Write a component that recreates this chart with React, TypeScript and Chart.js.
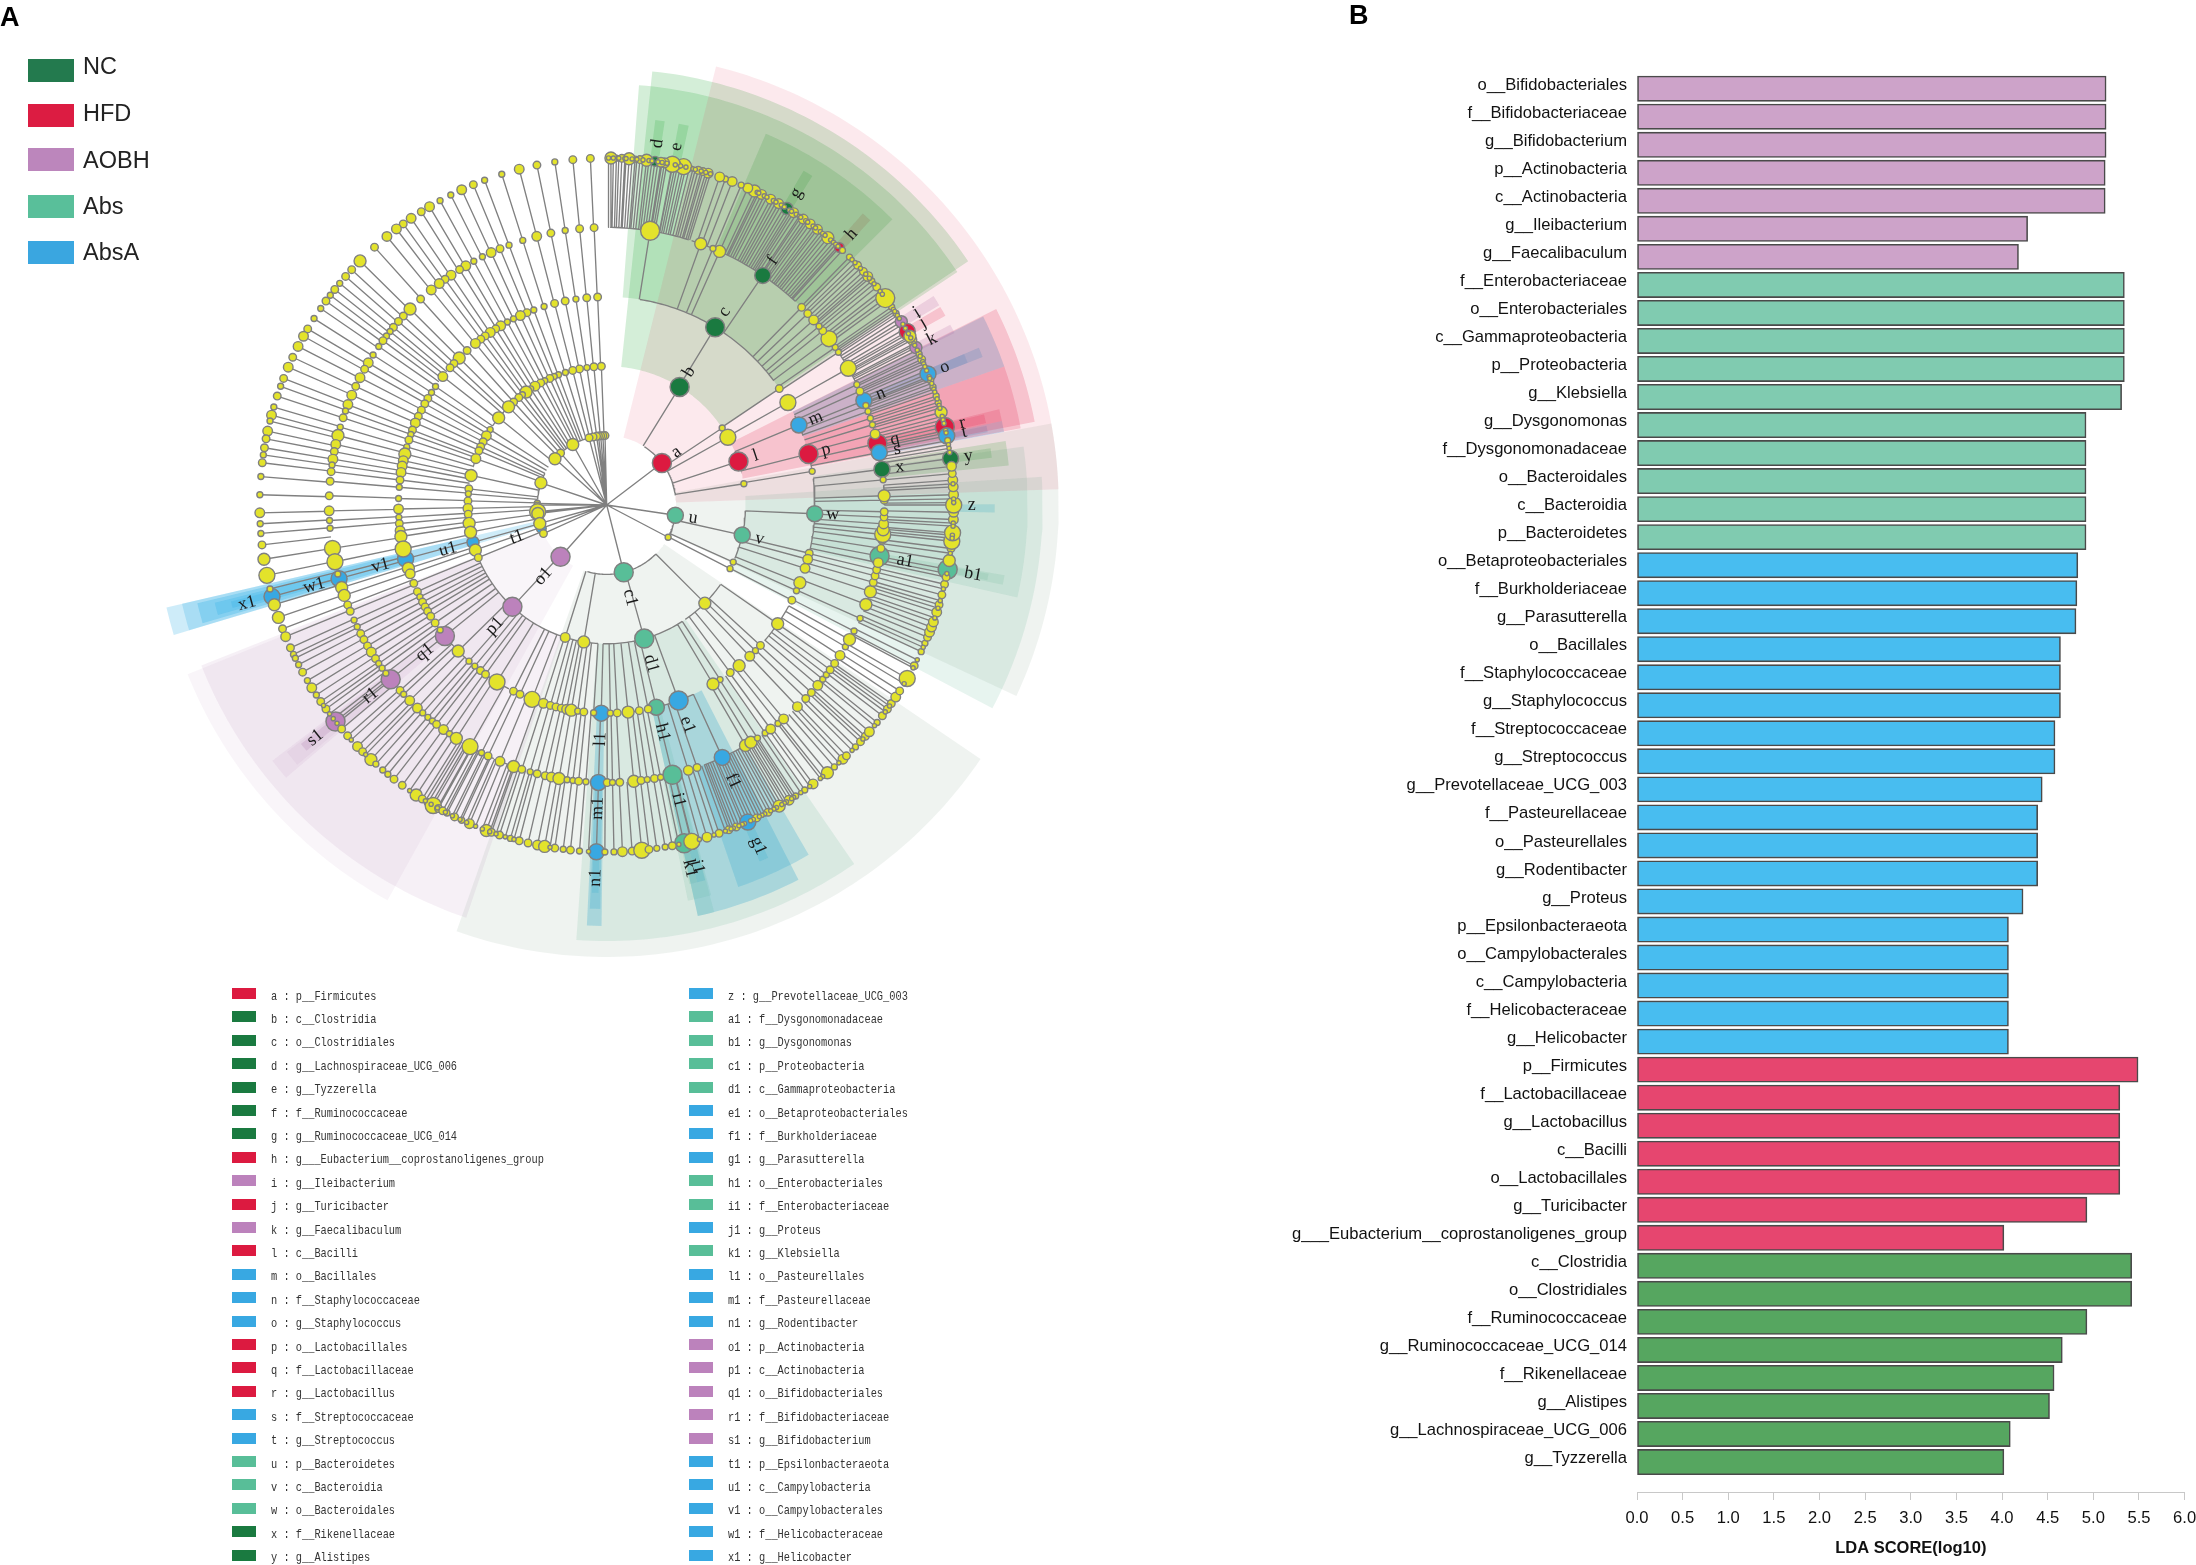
import React, { useEffect, useRef } from "react";
import { Chart, registerables } from "chart.js";

Chart.register(...registerables);

// ---------- Panel B data ----------
const barNames = [
  "o__Bifidobacteriales","f__Bifidobacteriaceae","g__Bifidobacterium","p__Actinobacteria","c__Actinobacteria","g__Ileibacterium","g__Faecalibaculum",
  "f__Enterobacteriaceae","o__Enterobacteriales","c__Gammaproteobacteria","p__Proteobacteria","g__Klebsiella","g__Dysgonomonas","f__Dysgonomonadaceae","o__Bacteroidales","c__Bacteroidia","p__Bacteroidetes",
  "o__Betaproteobacteriales","f__Burkholderiaceae","g__Parasutterella","o__Bacillales","f__Staphylococcaceae","g__Staphylococcus","f__Streptococcaceae","g__Streptococcus","g__Prevotellaceae_UCG_003","f__Pasteurellaceae","o__Pasteurellales","g__Rodentibacter","g__Proteus","p__Epsilonbacteraeota","o__Campylobacterales","c__Campylobacteria","f__Helicobacteraceae","g__Helicobacter",
  "p__Firmicutes","f__Lactobacillaceae","g__Lactobacillus","c__Bacilli","o__Lactobacillales","g__Turicibacter","g___Eubacterium__coprostanoligenes_group",
  "c__Clostridia","o__Clostridiales","f__Ruminococcaceae","g__Ruminococcaceae_UCG_014","f__Rikenellaceae","g__Alistipes","g__Lachnospiraceae_UCG_006","g__Tyzzerella",
];
const barValues = [
  5.14,5.14,5.14,5.13,5.13,4.28,4.18,
  5.34,5.34,5.34,5.34,5.31,4.92,4.92,4.92,4.92,4.92,
  4.83,4.82,4.81,4.64,4.64,4.64,4.58,4.58,4.44,4.39,4.39,4.39,4.23,4.07,4.07,4.07,4.07,4.07,
  5.49,5.29,5.29,5.29,5.29,4.93,4.02,
  5.42,5.42,4.93,4.66,4.57,4.52,4.09,4.02,
];
const barGroups = [
  2,2,2,2,2,2,2, 3,3,3,3,3,3,3,3,3,3,
  4,4,4,4,4,4,4,4,4,4,4,4,4,4,4,4,4,4,
  1,1,1,1,1,1,1, 0,0,0,0,0,0,0,0,
];
const barColors = ["#56A660","#E6466F","#CDA3C9","#80CBB0","#48BDF0"];
const axisTicks = [0,0.5,1,1.5,2,2.5,3,3.5,4,4.5,5,5.5,6];

// ---------- Panel A data ----------
const groupNames = ["NC","HFD","AOBH","Abs","AbsA"];
const groupColors = ["#1A7A40","#DC1A40","#BC82BC","#58BE98","#38A8E2"];
const wedgeRGB = ["40,170,60","225,40,80","170,110,170","85,175,145","50,175,230"];

// biomarker: label, taxon, group, ring, angle clockwise from top, abundance
const biomarkers: [string,string,number,number,number,number][] = [
  ["a","p__Firmicutes",1,1,52.7,6],["b","c__Clostridia",0,2,31.7,6],["c","o__Clostridiales",0,3,31.4,6],["d","g__Lachnospiraceae_UCG_006",0,5,8,3],["e","g__Tyzzerella",0,5,11,2],
  ["f","f__Ruminococcaceae",0,4,34.2,5],["g","g__Ruminococcaceae_UCG_014",0,5,31.3,4],["h","g___Eubacterium__coprostanoligenes_group",1,5,42.1,3],["i","g__Ileibacterium",2,5,58.1,4],["j","g__Turicibacter",1,5,60,5],
  ["k","g__Faecalibaculum",2,5,63,4],["l","c__Bacilli",1,2,71.7,6],["m","o__Bacillales",4,3,67.4,5],["n","f__Staphylococcaceae",4,4,67.9,5],["o","g__Staphylococcus",4,5,67.8,5],
  ["p","o__Lactobacillales",1,3,75.8,6],["q","f__Lactobacillaceae",1,4,77.2,6],["r","g__Lactobacillus",1,5,77,6],["s","f__Streptococcaceae",4,4,79.1,5],["t","g__Streptococcus",4,5,78.5,5],
  ["u","p__Bacteroidetes",3,1,98.5,5],["v","c__Bacteroidia",3,2,102.5,5],["w","o__Bacteroidales",3,3,92.4,5],["x","f__Rikenellaceae",0,4,82.6,5],["y","g__Alistipes",0,5,82.3,5],
  ["z","g__Prevotellaceae_UCG_003",4,5,90,3],["a1","f__Dysgonomonadaceae",3,4,100.6,6],["b1","g__Dysgonomonas",3,5,100.7,6],["c1","p__Proteobacteria",3,1,165.8,6],["d1","c__Gammaproteobacteria",3,2,164.3,6],
  ["e1","o__Betaproteobacteriales",4,3,159.8,6],["f1","f__Burkholderiaceae",4,4,155.4,5],["g1","g__Parasutterella",4,5,156,5],["h1","o__Enterobacteriales",3,3,166.2,5],["i1","f__Enterobacteriaceae",3,4,166.3,6],
  ["j1","g__Proteus",4,5,165.9,5],["k1","g__Klebsiella",3,5,167.1,6],["l1","o__Pasteurellales",4,3,181.5,5],["m1","f__Pasteurellaceae",4,4,181.7,5],["n1","g__Rodentibacter",4,5,181.7,5],
  ["o1","p__Actinobacteria",2,1,221.7,6],["p1","c__Actinobacteria",2,2,222.8,6],["q1","o__Bifidobacteriales",2,3,231,6],["r1","f__Bifidobacteriaceae",2,4,231.1,6],["s1","g__Bifidobacterium",2,5,231.4,6],
  ["t1","p__Epsilonbacteraeota",4,1,250.3,3],["u1","c__Campylobacteria",4,2,254.4,4],["v1","o__Campylobacterales",4,3,255,5],["w1","f__Helicobacteraceae",4,4,254.6,5],["x1","g__Helicobacter",4,5,254.7,5],
];

// background sector: label, ring, start angle, end angle
const sectors: [string,number,number,number][] = [
  ["a",1,14,88],["b",2,6,56],["c",3,4.4,56.4],["f",4,23.2,45],["d",5,7.2,8.6],["e",5,10.7,12.2],["g",5,30.5,32],["h",5,41.3,42.8],
  ["i",5,57.4,59],["j",5,59.3,60.8],["k",5,62.3,63.7],["l",2,63.3,79],["m",3,63.4,70.8],["n",4,67.1,68.5],["o",5,67.1,68.5],
  ["p",3,70.8,79.5],["q",4,76.3,78],["r",5,76.5,77.8],["s",4,78,79.6],["t",5,78.2,79.2],["x",4,80.9,84.4],["y",5,81.6,83],
  ["u",1,79.6,115],["v",2,86.3,117.8],["w",3,82,102.7],["a1",4,100,101.4],["b1",5,100.2,101.2],["z",5,89.9,91.1],
  ["c1",1,124.2,199.4],["d1",2,145.4,184],["e1",3,152.9,167.5],["f1",4,150,161],["g1",5,155.4,156.8],["h1",3,165.2,167.5],["i1",4,165,168.4],["j1",5,165.3,166.5],["k1",5,166.5,167.7],
  ["l1",3,180.7,182.7],["m1",4,180.9,182.4],["n1",5,181.2,182.2],
  ["o1",1,209,248],["p1",2,198.8,248.4],["q1",3,229.6,232.6],["r1",4,230,232.3],["s1",5,230.7,232],
  ["t1",1,253.3,256.9],["u1",2,253.3,256.9],["v1",3,253.7,256.5],["w1",4,254.2,256],["x1",5,254.6,255.6],
];

// unlabelled taxa per ring: [angle, abundance]
const ring1: [number,number][] = [[-1.4,2],[-3.2,2],[-5,2],[-6.8,2],[-8.4,2],[-11.3,2],[-14.7,2],[-29.3,4],[-41.6,2],[-48.2,4],[-71.4,4],[-88.6,1],[-90.1,1],[-95.6,5],[-97,4],[-105.4,4],[-114.3,2],[117.7,1]];
const ring2: [number,number][] = [
  [-2.2,2],[-5.3,2],[-8.2,1],[-11.3,2],[-14.2,2],[-17.3,1],[-20.3,1],[-22.2,1],[-24.2,2],[-26.5,1],[-28.4,2],[-31.1,3],[-33.2,1],[-35.5,4],[-37.4,1],[-39.3,2],[-42.1,2],[-45,4],[-51.1,4],[-57.1,1],[-60.1,3],[-62.9,2],[-65.2,2],[-67,2],[-70.5,3],[-77.7,4],[-83.3,2],[-85.4,1],[-88.3,2],[-91.4,3],
  [-93.8,2],[-97.6,4],[-101.3,4],[-108.9,4],[-112.3,2],[56.3,1],[60.8,5],[81.2,1],[114.3,1],[117.3,1],[135,4],[-162.6,3],[-170.5,4],
];
const ring3: [number,number][] = [
  [-2.5,2],[-5.5,2],[-8.5,1],[-11.5,2],[-14.5,2],[-17.5,1],[-20.5,1],[-22.5,2],[-24.5,3],[-26.6,1],[-28.5,1],[-30.6,3],[-32.2,2],[-34,3],[-35.7,2],[-37.2,2],[-39.1,3],[-42.1,2],[-45.1,4],[-47.2,2],[-48.8,2],[-51.9,3],[-55.3,1],[-57.3,1],[-59.2,2],[-60.9,2],[-62.9,2],[-64.8,2],[-66.8,3],[-68.9,2],[-70.2,1],[-71.8,2],[-73.8,1],[-75.8,4],[-77.7,3],[-79.2,3],[-81,3],[-83.1,2],[-85.1,1],[-88.2,1],[-91.1,3],
  [-93.4,1],[-95.1,2],[-97.1,3],[-98.7,4],[-102.2,5],[-107.7,4],[-109.3,3],[-112.1,2],[-114.6,2],[-116.2,1],[-117.8,2],[-119.3,2],[-120.7,2],[-122.3,2],[-124.5,2],[-126.9,1],[-134.5,4],[-138.6,1],[-140.7,1],[-142.7,2],[-144.4,2],[-148.2,5],[-153.4,2],[-155.4,2],[-159,5],[-162.3,3],[-164.3,2],[-165.9,2],[-167.4,2],[-168.9,3],[-170.2,4],[-172,1],[-173.7,2],[-176.4,1],
  [179,1],[177.1,2],[174.1,4],[171,2],[168.5,2],[56,2],[60.5,5],[80.7,1],[103.4,2],[105.1,3],[107.7,3],[111.9,4],[114.3,1],[117.2,2],[124.8,4],[132.4,2],[134.4,1],[136.6,3],[140.5,4],[143.6,2],[147,1],[149.3,4],
];
const ring4: [number,number][] = [
  [-2.6,2],[-5.6,2],[-8.6,1],[-11.6,2],[-14.6,3],[-17.6,1],[-20.6,1],[-22.6,2],[-24.6,3],[-26.6,1],[-28.6,1],[-30.5,3],[-32,2],[-34.1,3],[-35.6,2],[-37.1,3],[-39.2,3],[-42.1,2],[-45.1,4],[-47.1,2],[-48.6,2],[-50.2,2],[-51.3,1],[-52.5,1],[-53.7,2],[-55.2,1],[-57.3,1],[-59.2,3],[-60.7,2],[-62.7,3],[-64.7,2],[-66.7,3],[-68.8,3],[-70.2,1],[-71.7,2],[-73.7,1],[-75.5,4],[-77.4,3],[-78.9,2],[-80.5,3],[-81.7,1],[-83.1,2],[-85.1,2],[-88.1,2],[-91.2,3],
  [-93.2,1],[-94.8,1],[-99,5],[-101.8,5],[-104.4,1],[-107.3,4],[-109,4],[-111.1,2],[-112.5,2],[-114.5,1],[-116,1],[-117.6,2],[-119,2],[-120.5,2],[-122,3],[-123.6,2],[-124.8,1],[-126,1],[-127.3,1],[-131.9,2],[-133,1],[-134.8,3],[-137,3],[-138.5,1],[-139.9,1],[-141.1,1],[-142.2,2],[-144,3],[-145.5,1],[-147.2,4],[-150.5,5],[-153.2,1],[-154.7,2],[-157.4,3],[-160.4,4],[-162.2,2],[-164,1],[-165.5,2],[-167.2,2],[-168.5,3],[-170.1,4],[-171.8,1],[-173,1],[-174.2,2],[-175.7,1],
  [179.9,2],[178.8,1],[177.3,2],[174.4,4],[172.9,2],[171.6,1],[170.1,2],[168.8,1],[162.9,3],[161,2],
  [150,4],[148.7,4],[147.1,1],[145.2,1],[143.8,3],[141.9,1],[140.4,3],[136.6,3],[134.2,2],[132.5,2],[130.5,3],[128.9,1],[127.7,1],[126.4,2],[124.8,2],[122.8,3],[120.7,1],[119,4],[117,1],
  [114.1,1],[111,4],[108.2,4],[106.2,2],[104.8,2],[103.5,2],[102,3],[99,2],[97.3,2],[96.1,5],[95.1,4],[93.9,3],[92.5,2],[91.4,2],[89,2],[88.1,4],[84.8,1],
  [75.2,3],[73.2,1],[71.8,1],[70.3,1],[69,1],[65.8,2],[64.3,1],[60.5,5],[56.6,1],[55.4,1],[53.2,5],[51.1,2],[49.9,1],[48.2,3],[46.4,2],[44.6,2],[24,4],[22.5,1],[19.8,4],[9,6],
];
const ring5: [number,number][] = [
  [-2.7,2],[-5.6,2],[-8.6,1],[-11.6,2],[-14.6,3],[-17.6,1],[-20.6,1],[-22.6,2],[-24.7,3],[-26.7,1],[-28.7,1],[-30.7,3],[-32.3,2],[-34.3,3],[-35.9,2],[-37.3,3],[-39.3,3],[-42,2],[-45.3,4],[-47.3,2],[-48.8,2],[-50.3,1],[-51.6,2],[-52.8,1],[-54,2],[-55.5,1],[-57.5,1],[-59.5,2],[-60.9,3],[-62.8,3],[-64.8,2],[-66.6,3],[-68.6,2],[-70,1],[-71.7,2],[-73.6,1],[-75,3],[-76,1],[-77.7,3],[-79,2],[-80.5,2],[-81.7,1],[-83,2],[-85.3,1],[-88.3,1],[-91.3,3],
  [-93.1,1],[-94.7,1],[-96.6,2],[-99,4],[-101.7,5],[-104,1],[-106.7,4],[-108.9,4],[-110.9,2],[-112.3,3],[-114.3,2],[-115.5,1],[-116.2,1],[-117.4,1],[-118.8,2],[-120.4,1],[-121.8,3],[-123.2,1],[-124.5,2],[-126,2],[-130.2,2],[-131.7,2],[-134.1,3],[-135.3,2],[-137.2,4],[-138.3,1],[-139.8,1],[-140.9,1],[-142.2,2],[-143.9,2],[-146.7,4],[-147.9,2],[-149,2],[-150,5],[-151,2],[-151.8,2],[-152.6,1],[-154,2],[-155.3,1],[-156.7,3],[-159.7,4],[-160.6,2],[-162,2],[-163.9,1],[-165.4,2],[-166.9,2],[-168.5,3],[-169.7,4],[-171.4,2],[-172.8,1],[-174,2],[-175.5,1],[-179.7,1],
  [178.8,1],[177.4,3],[175.8,2],[174.2,5],[173,2],[171.7,1],[170.3,1],[169.1,2],[165.8,5],[163.2,3],[161.1,2],[159.4,2],[158.1,2],[154.4,2],[152.3,2],[150.2,4],[148.3,3],[147,1],
  [145.2,1],[143.5,3],[140.5,4],[139,1],[137.1,3],[136.3,2],[134.2,1],[133,2],[131.8,2],[130.8,3],[128.8,1],[127.4,2],[126,2],[124.9,2],[123.6,3],[122.4,2],[120,5],[117.6,2],[115,1],[113.5,1],[112.4,2],[111.5,3],[110.6,3],[109.7,3],[108,3],[106.7,2],[105,2],[103.2,2],[102,2],[99.2,4],[97.2,2],[96,5],[94.6,5],[92.4,3],[91.2,3],[90,5],[88.3,3],[87,3],[85.9,3],[84.8,2],[83.6,3],
  [79.3,1],[74.5,4],[72.8,1],[71.7,1],[70.1,1],[69,1],[65.2,2],[64.2,1],[61.6,3],[60.9,4],[56.5,1],[55.2,1],[54,2],[53.4,6],[51.1,2],[49.8,1],[48.8,3],[47.7,2],[46.3,2],[44.4,1],[42.8,1],
  [39.6,4],[37.4,3],[35.9,3],[34.5,3],[32.6,3],[29.7,3],[28.2,3],[26.5,3],[25.2,4],[24,3],[22.8,1],[21.2,3],[20,1],[19,3],[17,3],[16.1,2],[15.3,2],[13.8,1],[12.8,5],[11.8,2],[10.9,5],[9.6,3],[9,3],[6.6,4],[5.5,2],[4.7,1],[3.7,4],[2.5,2],[1.6,1],[0.7,4],
];
// leaves too small to see a marker, only their branch line
const ring5Minor = [
  0.3,1.1,2,3,3.2,4.2,5,6,7,7.5,8.5,9.2,10,11.4,12.3,13.2,14.4,14.8,15.8,16.6,17.4,
  25.7,26,27,27.5,28.7,29.2,30.2,30.8,31.8,32.2,33.1,33.7,34,35,35.4,36.5,37,38,38.5,39,40.2,40.8,41.3,41.8,
  45,45.7,47,48.3,49.2,50.4,52,52.6,55.7,56.1,56.9,57.5,58.6,59.4,60.4,61.2,62.3,62.6,63.5,64.6,65.6,66,66.5,67.2,68.3,68.6,69.5,70.5,71,72.2,73.3,73.8,75.2,75.8,76.4,77.6,78,80,80.6,81.3,
  86.5,89,89.6,93,93.5,95,95.5,98,101.4,104,106,107.3,109,114.2,116.5,118,121,125.4,126.6,129.5,132.4,135,138,141.5,142,144.2,146,
  147.4,147.8,148.8,149.2,149.7,150.7,151.2,151.8,152.9,153.4,153.9,155,155.5,156.6,157,157.6,158.6,159,160,162,164.5,168,
  -149.6,-150.8,-152.3,-153.6,-155,-156.2,-157.8,-159,-160.3,-161.4,-163,-164.5,-170.6,-177,
  -125.3,-127,-128,-129,-132.6,-136,-145.4,-148.5,
];
// branching arcs per ring: [from angle, to angle]
const arcs1: [number,number][] = [[32.9,82],[98.5,115],[135,196.2],[-17.3,-40],[-45,-51],[-62.9,-85.4],[-91.4,-101.3],[-108.9,-114.3]];
const arcs2: [number,number][] = [[67.4,75.8],[92.4,112.7],[147,181.5],[125,145.5],[-112.5,-159.2],[-164.3,-176.4],[-153.4,-162.3],[-47.2,-55.3],[-57.3,-62.9],[-66.8,-73.8],[-75.8,-79.2],[-30.6,-32.2],[-34,-37.2],[-95.1,-98.7],[-107.7,-109.3]];
const arcs3: [number,number][] = [[9.2,53.4],[55.4,56.6],[64.6,70.6],[72.9,79.7],[82.7,103.5],[119,130.7],[140.4,143.8],[148.7,150],[161,166.3],[155.4,159.8],[177.8,181.7],[-125,-131.9],[-131.9,-138],[-144,-152],[-154,-162],[-74,-78.7],[170,172.9],[-105.3,-107.3],[-99,-101.8]];
const arcs4: [number,number][] = [[0.9,17.2],[17.8,24],[25.2,42.8],[56.9,64],[64.5,70],[71.5,77.8],[78.5,79.5],[80.5,84.5],[85.9,90],[94.6,97.2],[99.2,102],[117,121],[147,159.5],[165.8,167.1],[-73.6,-77.7],[-149,-156],[-157,-162],[-133,-135.3],[-137.2,-138.3],[-126,-131.7],[180,182.5],[-98,-99.6],[-104,-105.5]];

const panelLetters: [string,number,number][] = [["A",0,2],["B",1349,0]];

const RING = 69.4;
const OUTER = [0,452,436,421,404,388];
const CX = 606.7, CY = 505, WA = 1290, HA = 1000;
const BL = 1280, BW = 916;
const toXY = (r: number, deg: number) => ({ x: r * Math.sin((deg*Math.PI)/180), y: r * Math.cos((deg*Math.PI)/180) });
const pointSize = (a: number) => [2.1,3,3.8,4.8,6,8,9.5][a];

function cladogramConfig(): any {
  const datasets: any[] = [];
  const byLabel = new Map(biomarkers.map((b) => [b[0], b]));
  sectors.forEach(([lab, ring, a0, a1]) => {
    const b = byLabel.get(lab)!;
    const pts: {x:number;y:number}[] = [];
    const rIn = ring * RING, rOut = OUTER[ring];
    const steps = Math.max(2, Math.ceil(a1 - a0));
    for (let i = 0; i <= steps; i++) pts.push(toXY(rOut, a0 + ((a1 - a0) * i) / steps));
    for (let i = steps; i >= 0; i--) pts.push(toXY(rIn, a0 + ((a1 - a0) * i) / steps));
    let rgb = wedgeRGB[b[2]];
    let alpha = 0.2;
    if (b[2] === 3) { alpha = ring === 1 ? 0.1 : 0.14; if (ring === 1) rgb = "100,140,110"; }
    else if (b[2] === 2) alpha = ring === 1 ? 0.07 : ring === 2 ? 0.1 : ring === 5 ? 0.2 : 0.09;
    else if (b[2] === 1) alpha = ring === 1 ? 0.1 : 0.2;
    else if (b[2] === 4) alpha = ring === 3 ? 0.3 : ring === 4 ? 0.28 : 0.24;
    datasets.push({
      type: "scatter", data: pts, showLine: true, fill: "shape", pointRadius: 0, order: 10,
      backgroundColor: `rgba(${rgb},${alpha})`, borderColor: "transparent", borderWidth: 0, tension: 0,
    });
  });
  const rings = [ring1, ring2, ring3, ring4, ring5];
  const arcs = [arcs1, arcs2, arcs3, arcs4];
  const gap = { x: NaN, y: NaN };
  const lines: {x:number;y:number}[] = [];
  const spoke = (ring: number, a: number) => { lines.push(toXY((ring - 1) * RING, a), toXY(ring * RING, a), gap); };
  rings.forEach((list, i) => list.forEach(([a]) => spoke(i + 1, a)));
  ring5Minor.forEach((a) => spoke(5, a));
  biomarkers.forEach((b) => spoke(b[3], b[4]));
  arcs.forEach((list, i) => list.forEach(([a0, a1]) => {
    const n = Math.max(2, Math.ceil(Math.abs(a1 - a0)));
    for (let k = 0; k <= n; k++) lines.push(toXY((i + 1) * RING, a0 + ((a1 - a0) * k) / n));
    lines.push(gap);
  }));
  datasets.push({ type: "scatter", data: lines, showLine: true, pointRadius: 0, borderColor: "#808080", borderWidth: 1.35, order: 5, spanGaps: false });
  datasets.push({
    type: "scatter",
    data: biomarkers.map((b) => toXY(b[3] * RING, b[4])),
    pointRadius: biomarkers.map((b) => pointSize(b[5])),
    pointBackgroundColor: biomarkers.map((b) => groupColors[b[2]]),
    pointBorderColor: "#808080", pointBorderWidth: 1.5, showLine: false, order: 3,
  });
  const yellow: {p:{x:number;y:number};s:number}[] = [];
  rings.forEach((list, i) => list.forEach(([a, v]) => yellow.push({ p: toXY((i + 1) * RING, a), s: pointSize(v) })));
  ring5Minor.forEach((a) => yellow.push({ p: toXY(5 * RING, a), s: pointSize(0) }));
  datasets.push({
    type: "scatter", data: yellow.map((d) => d.p), pointRadius: yellow.map((d) => d.s),
    pointBackgroundColor: "#E3E32B", pointBorderColor: "#808080", pointBorderWidth: 1.4, showLine: false, order: 2,
  });
  const labelPlugin = {
    id: "taxonLabels",
    afterDatasetsDraw(chart: any) {
      const { ctx, scales } = chart;
      ctx.save();
      ctx.fillStyle = "#1a1a1a";
      ctx.font = "18px 'Liberation Serif'";
      ctx.textAlign = "center";
      ctx.textBaseline = "middle";
      biomarkers.forEach((b) => {
        const r = b[3] * RING + (b[0].length > 1 ? 26 : 18);
        const p = toXY(r, b[4]);
        const rot = b[4] < 180 ? b[4] - 90 : b[4] - 270;
        ctx.save();
        ctx.translate(scales.x.getPixelForValue(p.x), scales.y.getPixelForValue(p.y));
        ctx.rotate((rot * Math.PI) / 180);
        ctx.fillText(b[0], 0, 0);
        ctx.restore();
      });
      ctx.restore();
    },
  };
  return {
    type: "scatter",
    data: { datasets },
    plugins: [labelPlugin],
    options: {
      responsive: false, animation: false, events: [], devicePixelRatio: 1,
      layout: { padding: 0, autoPadding: false },
      plugins: { legend: { display: false }, tooltip: { enabled: false } },
      scales: {
        x: { type: "linear", display: false, min: -CX, max: WA - CX },
        y: { type: "linear", display: false, min: CY - HA, max: CY },
      },
    },
  };
}

function barConfig(): any {
  const font = { family: "'Liberation Sans'", size: 16.6 };
  return {
    type: "bar",
    data: {
      datasets: [{
        data: barValues.map((v, i) => ({ x: v, y: i })),
        backgroundColor: barGroups.map((g) => barColors[g]),
        borderColor: "#4A4A4A", borderWidth: 1.6, borderSkipped: false, barThickness: 25.3,
      }],
    },
    options: {
      indexAxis: "y", responsive: false, animation: false, events: [], devicePixelRatio: 1,
      layout: { padding: { top: 74.7, right: 11.4, left: 0, bottom: 0 }, autoPadding: false },
      plugins: { legend: { display: false }, tooltip: { enabled: false } },
      scales: {
        y: {
          type: "linear", reverse: true, min: -0.5, max: 50.07, offset: false,
          grid: { display: false, drawTicks: false }, border: { display: false },
          afterBuildTicks: (s: any) => { s.ticks = barNames.map((_, i) => ({ value: i })); },
          afterFit: (s: any) => { s.width = 1637 - BL; },
          ticks: { autoSkip: false, padding: 10, labelOffset: -3.5, color: "#111", font, callback: (v: number) => barNames[v] ?? "" },
        },
        x: {
          type: "linear", min: 0, max: 6, position: "bottom",
          afterBuildTicks: (s: any) => { s.ticks = axisTicks.map((value) => ({ value })); },
          afterFit: (s: any) => { s.height = 73; s.paddingLeft = 0; s.paddingRight = 0; },
          grid: { drawOnChartArea: false, color: "#C8C8C8", tickLength: 8, lineWidth: 1 },
          border: { color: "#C8C8C8" },
          ticks: { padding: 8, color: "#111", font, maxRotation: 0, autoSkip: false, callback: (v: number) => v.toFixed(1) },
          title: { display: true, text: "LDA SCORE(log10)", color: "#111", font: { family: "'Liberation Sans'", size: 16.5, weight: "bold" }, padding: { top: 4, bottom: 7 } },
        },
      },
    },
  };
}

const abs = (l: number, t: number, extra: any = {}): any => ({ position: "absolute", left: l, top: t, ...extra });

export default function App() {
  const aRef = useRef<HTMLCanvasElement>(null);
  const bRef = useRef<HTMLCanvasElement>(null);
  useEffect(() => {
    const a = new Chart(aRef.current!, cladogramConfig());
    const b = new Chart(bRef.current!, barConfig());
    return () => { a.destroy(); b.destroy(); };
  }, []);
  return (
    <div style={{ position: "absolute", left: 0, top: 0, width: 2196, height: 1565, background: "#fff", overflow: "hidden" }}>
      <canvas ref={aRef} width={WA} height={HA} style={abs(0, 0, { width: WA, height: HA })} />
      <canvas ref={bRef} width={BW} height={1565} style={abs(BL, 0, { width: BW, height: 1565 })} />
      {panelLetters.map(([t, l, tp]) => (
        <div key={t} style={abs(l, tp, { font: "bold 27px/30px 'Liberation Sans'", color: "#000" })}>{t}</div>
      ))}
      {groupNames.map((g, i) => (
        <React.Fragment key={g}>
          <div style={abs(28, [59, 104, 148, 195, 241][i], { width: 46, height: 23, background: ["#237A4E", "#DC1C42", "#BC86BC", "#59BF9A", "#3AA6E0"][i] })} />
          <div style={abs(83, [51, 98, 145, 191, 237][i], { font: "23.5px/30px 'Liberation Sans'", color: "#222" })}>{g}</div>
        </React.Fragment>
      ))}
      {biomarkers.map((b, i) => {
        const col = i < 25 ? 0 : 1;
        const row = i < 25 ? i : i - 25;
        const y = 996.6 + row * 23.4;
        return (
          <React.Fragment key={b[0]}>
            <div style={abs(col ? 689 : 232, y - 8.6, { width: 24, height: 11, background: groupColors[b[2]] })} />
            <div style={abs(col ? 728 : 271, y - 8, { font: "13px/16px 'Liberation Mono'", color: "#333", whiteSpace: "pre", transform: "scaleX(0.795)", transformOrigin: "left center" })}>{`${b[0]} : ${b[1]}`}</div>
          </React.Fragment>
        );
      })}
    </div>
  );
}
